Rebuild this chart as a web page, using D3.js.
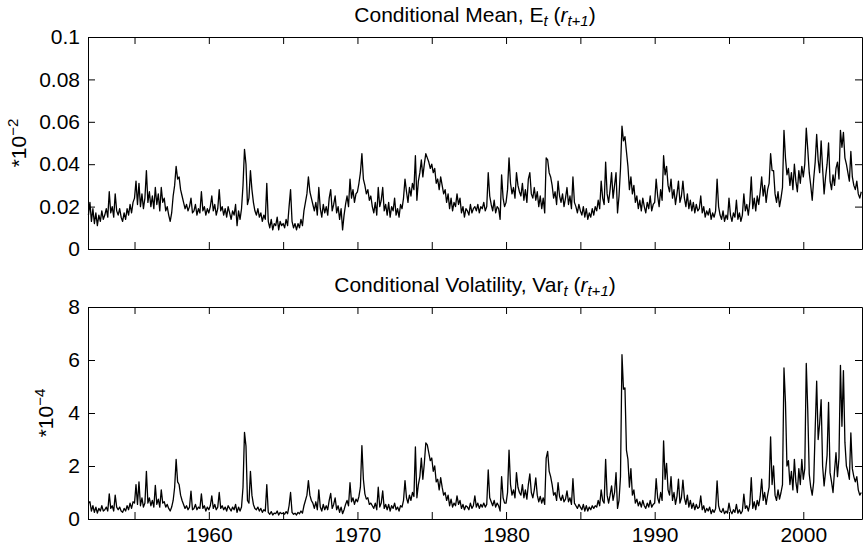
<!DOCTYPE html>
<html>
<head>
<meta charset="utf-8">
<script src="https://cdn.jsdelivr.net/npm/d3@7"></script>
<style>
  body { margin: 0; background: #fff; }
  svg { display: block; font-family: "Liberation Sans", Arial, Helvetica, sans-serif; }
</style>
</head>
<body>
<div id="chart"></div>
<script>
// time index: first observation and spacing (years)
const startYear = 1951.9
const stepYear = 0.1
const xDomain = [1951.87, 2003.95]
const yearTicks = [1955, 1960, 1965, 1970, 1975, 1980, 1985, 1990, 1995, 2000]
const yearLabels = [1960, 1970, 1980, 1990, 2000]
const meanTicks = [0, 0.02, 0.04, 0.06, 0.08, 0.1]
const varTicks = [0, 2, 4, 6, 8]

// conditional mean, one row per year (x 10^-2)
const condMean = [
  .016,
  .022,.013,.019,.012,.017,.011,.016,.013,.018,.014, // 1952
  .016,.019,.015,.027,.017,.020,.015,.026,.018,.016,
  .019,.015,.013,.017,.014,.019,.016,.021,.017,.022,
  .024,.032,.021,.031,.020,.026,.019,.024,.037,.022, // 1955
  .027,.020,.025,.019,.029,.021,.026,.018,.029,.022,
  .024,.018,.020,.016,.013,.017,.025,.030,.039,.033,
  .034,.028,.025,.022,.019,.021,.018,.020,.024,.017,
  .018,.021,.016,.019,.017,.027,.018,.020,.016,.019,
  .017,.020,.025,.018,.021,.016,.019,.028,.018,.020, // 1960
  .016,.019,.015,.020,.017,.014,.018,.016,.021,.011,
  .018,.014,.019,.030,.047,.040,.021,.024,.037,.028,
  .022,.018,.016,.019,.015,.017,.013,.016,.014,.031,
  .013,.010,.014,.009,.012,.011,.015,.009,.013,.011,
  .012,.010,.014,.011,.020,.028,.013,.010,.012,.009, // 1965
  .012,.010,.014,.011,.018,.022,.026,.034,.027,.024,
  .021,.018,.022,.016,.029,.019,.015,.021,.017,.020,
  .016,.024,.028,.018,.021,.025,.017,.020,.014,.019,
  .009,.016,.021,.025,.020,.033,.024,.028,.022,.026,
  .027,.031,.036,.045,.033,.030,.026,.028,.023,.025, // 1970
  .020,.017,.022,.016,.029,.020,.023,.029,.018,.021,
  .016,.022,.015,.020,.018,.024,.016,.019,.015,.021,
  .019,.024,.033,.027,.022,.029,.025,.031,.028,.044,
  .023,.032,.036,.042,.034,.040,.045,.043,.041,.038,
  .040,.036,.038,.031,.033,.028,.034,.030,.026,.028, // 1975
  .022,.026,.019,.024,.018,.022,.020,.026,.021,.024,
  .017,.020,.015,.019,.018,.016,.021,.017,.019,.020,
  .018,.021,.017,.020,.019,.022,.018,.020,.036,.025,
  .021,.018,.023,.017,.020,.019,.014,.035,.024,.020,
  .022,.028,.043,.031,.026,.029,.024,.036,.030,.027, // 1980
  .025,.031,.023,.028,.022,.033,.036,.026,.024,.029,
  .023,.027,.020,.025,.019,.024,.017,.043,.042,.036,
  .034,.030,.024,.027,.021,.032,.025,.022,.026,.020,
  .024,.029,.021,.025,.019,.034,.022,.020,.017,.021,
  .018,.016,.020,.015,.019,.014,.017,.015,.019,.016, // 1985
  .020,.018,.023,.019,.032,.024,.021,.041,.026,.022,
  .028,.036,.024,.030,.036,.017,.025,.038,.058,.051,
  .053,.046,.039,.028,.034,.026,.030,.022,.025,.019,
  .023,.018,.024,.020,.017,.022,.019,.025,.018,.021,
  .022,.033,.025,.020,.028,.023,.044,.035,.039,.030, // 1990
  .027,.033,.024,.028,.021,.026,.032,.022,.025,.032,
  .024,.020,.026,.019,.023,.018,.022,.017,.021,.018,
  .019,.025,.017,.020,.015,.018,.016,.019,.014,.017,
  .015,.018,.033,.020,.016,.014,.018,.013,.016,.014,
  .024,.016,.013,.017,.015,.023,.014,.017,.013,.016, // 1995
  .026,.018,.021,.016,.022,.034,.019,.024,.018,.025,
  .021,.027,.034,.025,.030,.022,.028,.031,.045,.037,
  .037,.026,.022,.027,.020,.024,.029,.056,.043,.035,
  .038,.030,.036,.028,.040,.032,.027,.037,.031,.039,
  .034,.040,.057,.047,.036,.030,.023,.033,.041,.054, // 2000
  .042,.036,.051,.038,.026,.034,.040,.050,.032,.028,
  .035,.030,.038,.041,.033,.056,.048,.055,.043,.040,
  .036,.032,.046,.034,.030,.028,.032,.026,.024,.027
]

// conditional variance, one row per year (x 10^-4)
const condVar = [
  .6,
  .65,.3,.5,.25,.45,.22,.4,.3,.5,.3, // 1952
  .35,.45,.3,.95,.4,.5,.3,.9,.45,.35,
  .45,.3,.25,.4,.3,.5,.35,.6,.4,.65,
  .6,1.3,.55,1.4,.5,.8,.45,.6,1.8,.6, // 1955
  .8,.5,.7,.45,1.27,.55,.75,.45,1.1,.6,
  .65,.45,.55,.4,.3,.45,.7,1.2,2.25,1.4,
  1.3,.9,.7,.55,.4,.5,.35,.45,1.05,.35,
  .4,.55,.35,.45,.4,.95,.4,.5,.3,.45,
  .35,.5,.87,.4,.55,.35,.45,1.0,.4,.5, // 1960
  .35,.45,.3,.5,.4,.3,.45,.35,.55,.25,
  .45,.3,.45,1.2,3.27,2.75,.7,.6,1.8,.9,
  .55,.4,.35,.45,.3,.4,.25,.35,.3,1.3,
  .25,.18,.28,.15,.22,.2,.3,.15,.25,.2,
  .22,.18,.28,.2,.5,1.0,.25,.18,.22,.15, // 1965
  .25,.2,.3,.22,.5,.7,.9,1.45,.9,.7,
  .6,.4,.65,.35,1.1,.45,.3,.55,.35,.5,
  .35,.7,.97,.4,.55,.8,.35,.5,.25,.45,
  .2,.35,.55,.7,.5,1.37,.65,.8,.55,.75,
  .65,.85,1.2,2.77,1.5,.95,.75,.8,.55,.6, // 1970
  .5,.4,.6,.35,1.2,.45,.6,1.06,.4,.55,
  .35,.55,.3,.5,.4,.6,.35,.45,.3,.5,
  .45,.7,1.45,.8,.6,.9,.7,1.0,.85,2.72,
  .8,1.3,1.6,2.3,1.5,2.1,2.87,2.8,2.5,2.2,
  2.3,1.8,2.0,1.4,1.5,1.1,1.56,1.2,.9,1.0, // 1975
  .7,.9,.5,.75,.45,.6,.5,.87,.55,.7,
  .4,.55,.35,.5,.45,.35,.6,.4,.5,.87,
  .45,.6,.4,.55,.45,.6,.45,.55,1.85,.8,
  .65,.5,.7,.45,.6,.5,.3,1.6,.8,.6,
  .6,1.0,2.6,1.3,.9,1.1,.8,1.75,1.2,1.0, // 1980
  .9,1.3,.8,1.1,.75,1.3,1.7,1.0,.8,1.1,
  1.55,.9,.65,.85,.6,.8,.55,2.3,2.55,1.8,
  1.6,1.3,.9,1.0,.7,1.37,.85,.7,.9,.65,
  .75,1.06,.65,.8,.55,1.52,.6,.5,.4,.55,
  .45,.35,.55,.3,.5,.3,.45,.35,.5,.4, // 1985
  .5,.45,.7,.5,1.1,.7,.6,2.25,.9,.6,
  .9,1.25,.7,1.0,1.75,.4,.7,1.6,6.2,4.9,
  4.95,2.6,2.25,1.2,1.9,.9,1.1,.6,.75,.5,
  .65,.45,.7,.5,.4,.6,.45,.7,.45,.55,
  .6,1.52,.8,.6,1.0,.7,2.95,1.5,2.1,1.1, // 1990
  .9,1.6,.7,1.0,.55,.85,1.5,.6,.8,1.47,
  .8,.55,.9,.45,.7,.4,.6,.35,.55,.4,
  .45,.87,.35,.5,.25,.4,.3,.45,.2,.35,
  .25,.4,1.44,.5,.3,.25,.4,.2,.3,.22,
  .6,.3,.2,.35,.25,.55,.22,.35,.2,.3, // 1995
  .94,.4,.5,.3,.55,1.56,.4,.65,.35,.7,
  .5,.85,1.5,.7,1.0,.55,.9,1.2,3.1,1.3,
  2.0,.9,.7,1.1,.75,1.0,1.3,5.7,4.4,2.0,
  2.2,1.3,1.8,1.1,2.25,1.4,1.0,1.9,1.3,2.25,
  1.5,1.9,5.87,4.1,1.7,1.2,.9,1.4,3.4,5.2, // 2000
  3.0,3.6,4.5,2.0,1.25,1.8,2.4,4.4,1.75,1.4,
  1.0,1.8,2.5,1.6,2.3,5.8,3.5,5.6,2.9,2.0,
  1.8,1.5,3.25,1.9,1.6,1.4,1.6,1.1,.9,1.0
]

const W = 863, H = 548
const plotLeft = 88, plotRight = 862
const fontSize = 21, smallSize = 15

const panels = [
  { values: condMean, domain: [0, 0.1], ticks: meanTicks, top: 37, bottom: 249,
    title: 'Conditional Mean, E', exp: '\u22122', labelX: 26, xLabels: false },
  { values: condVar, domain: [0, 8], ticks: varTicks, top: 307, bottom: 519,
    title: 'Conditional Volatility, Var', exp: '\u22124', labelX: 53, xLabels: true }
]

const svg = d3.select('#chart').append('svg').attr('width', W).attr('height', H)
const x = d3.scaleLinear().domain(xDomain).range([plotLeft, plotRight])

panels.forEach(p => {
  const y = d3.scaleLinear().domain(p.domain).range([p.bottom, p.top])
  const g = svg.append('g')

  const line = d3.line()
    .x((d, i) => x(startYear + i * stepYear))
    .y(d => y(d))

  g.append('path')
    .datum(p.values)
    .attr('fill', 'none')
    .attr('stroke', '#000')
    .attr('stroke-width', 1.3)
    .attr('stroke-linejoin', 'round')
    .attr('d', line)

  const yearFmt = d => (p.xLabels && yearLabels.includes(d) ? d : '')
  const axes = [
    [d3.axisBottom(x).tickValues(yearTicks).tickFormat(yearFmt), `translate(0,${p.bottom})`],
    [d3.axisTop(x).tickValues(yearTicks).tickFormat(''), `translate(0,${p.top})`],
    [d3.axisLeft(y).tickValues(p.ticks).tickFormat(d3.format('~g')), `translate(${plotLeft},0)`],
    [d3.axisRight(y).tickValues(p.ticks).tickFormat(''), `translate(${plotRight},0)`]
  ]
  axes.forEach(([ax, tr]) => {
    g.append('g')
      .attr('transform', tr)
      .call(ax.tickSizeInner(-7).tickSizeOuter(0).tickPadding(8))
      .attr('font-size', fontSize)
      .attr('font-family', null)
  })

  // title with subscripts
  const t = svg.append('text')
    .attr('x', (plotLeft + plotRight) / 2)
    .attr('y', p.top - 15)
    .attr('text-anchor', 'middle')
    .attr('font-size', fontSize)
  t.append('tspan').text(p.title)
  t.append('tspan').attr('font-style', 'italic').attr('font-size', smallSize).attr('dy', 4).text('t')
  t.append('tspan').attr('dy', -4).text(' (')
  t.append('tspan').attr('font-style', 'italic').text('r')
  t.append('tspan').attr('font-style', 'italic').attr('font-size', smallSize).attr('dy', 4).text('t+1')
  t.append('tspan').attr('dy', -4).text(')')

  // y label  *10^-n
  const yl = svg.append('text')
    .attr('transform', `translate(${p.labelX},${(p.top + p.bottom) / 2}) rotate(-90)`)
    .attr('text-anchor', 'middle')
    .attr('font-size', fontSize)
  yl.append('tspan').text('*10')
  yl.append('tspan').attr('font-size', smallSize).attr('dy', -8).text(p.exp)
})
</script>
</body>
</html>
